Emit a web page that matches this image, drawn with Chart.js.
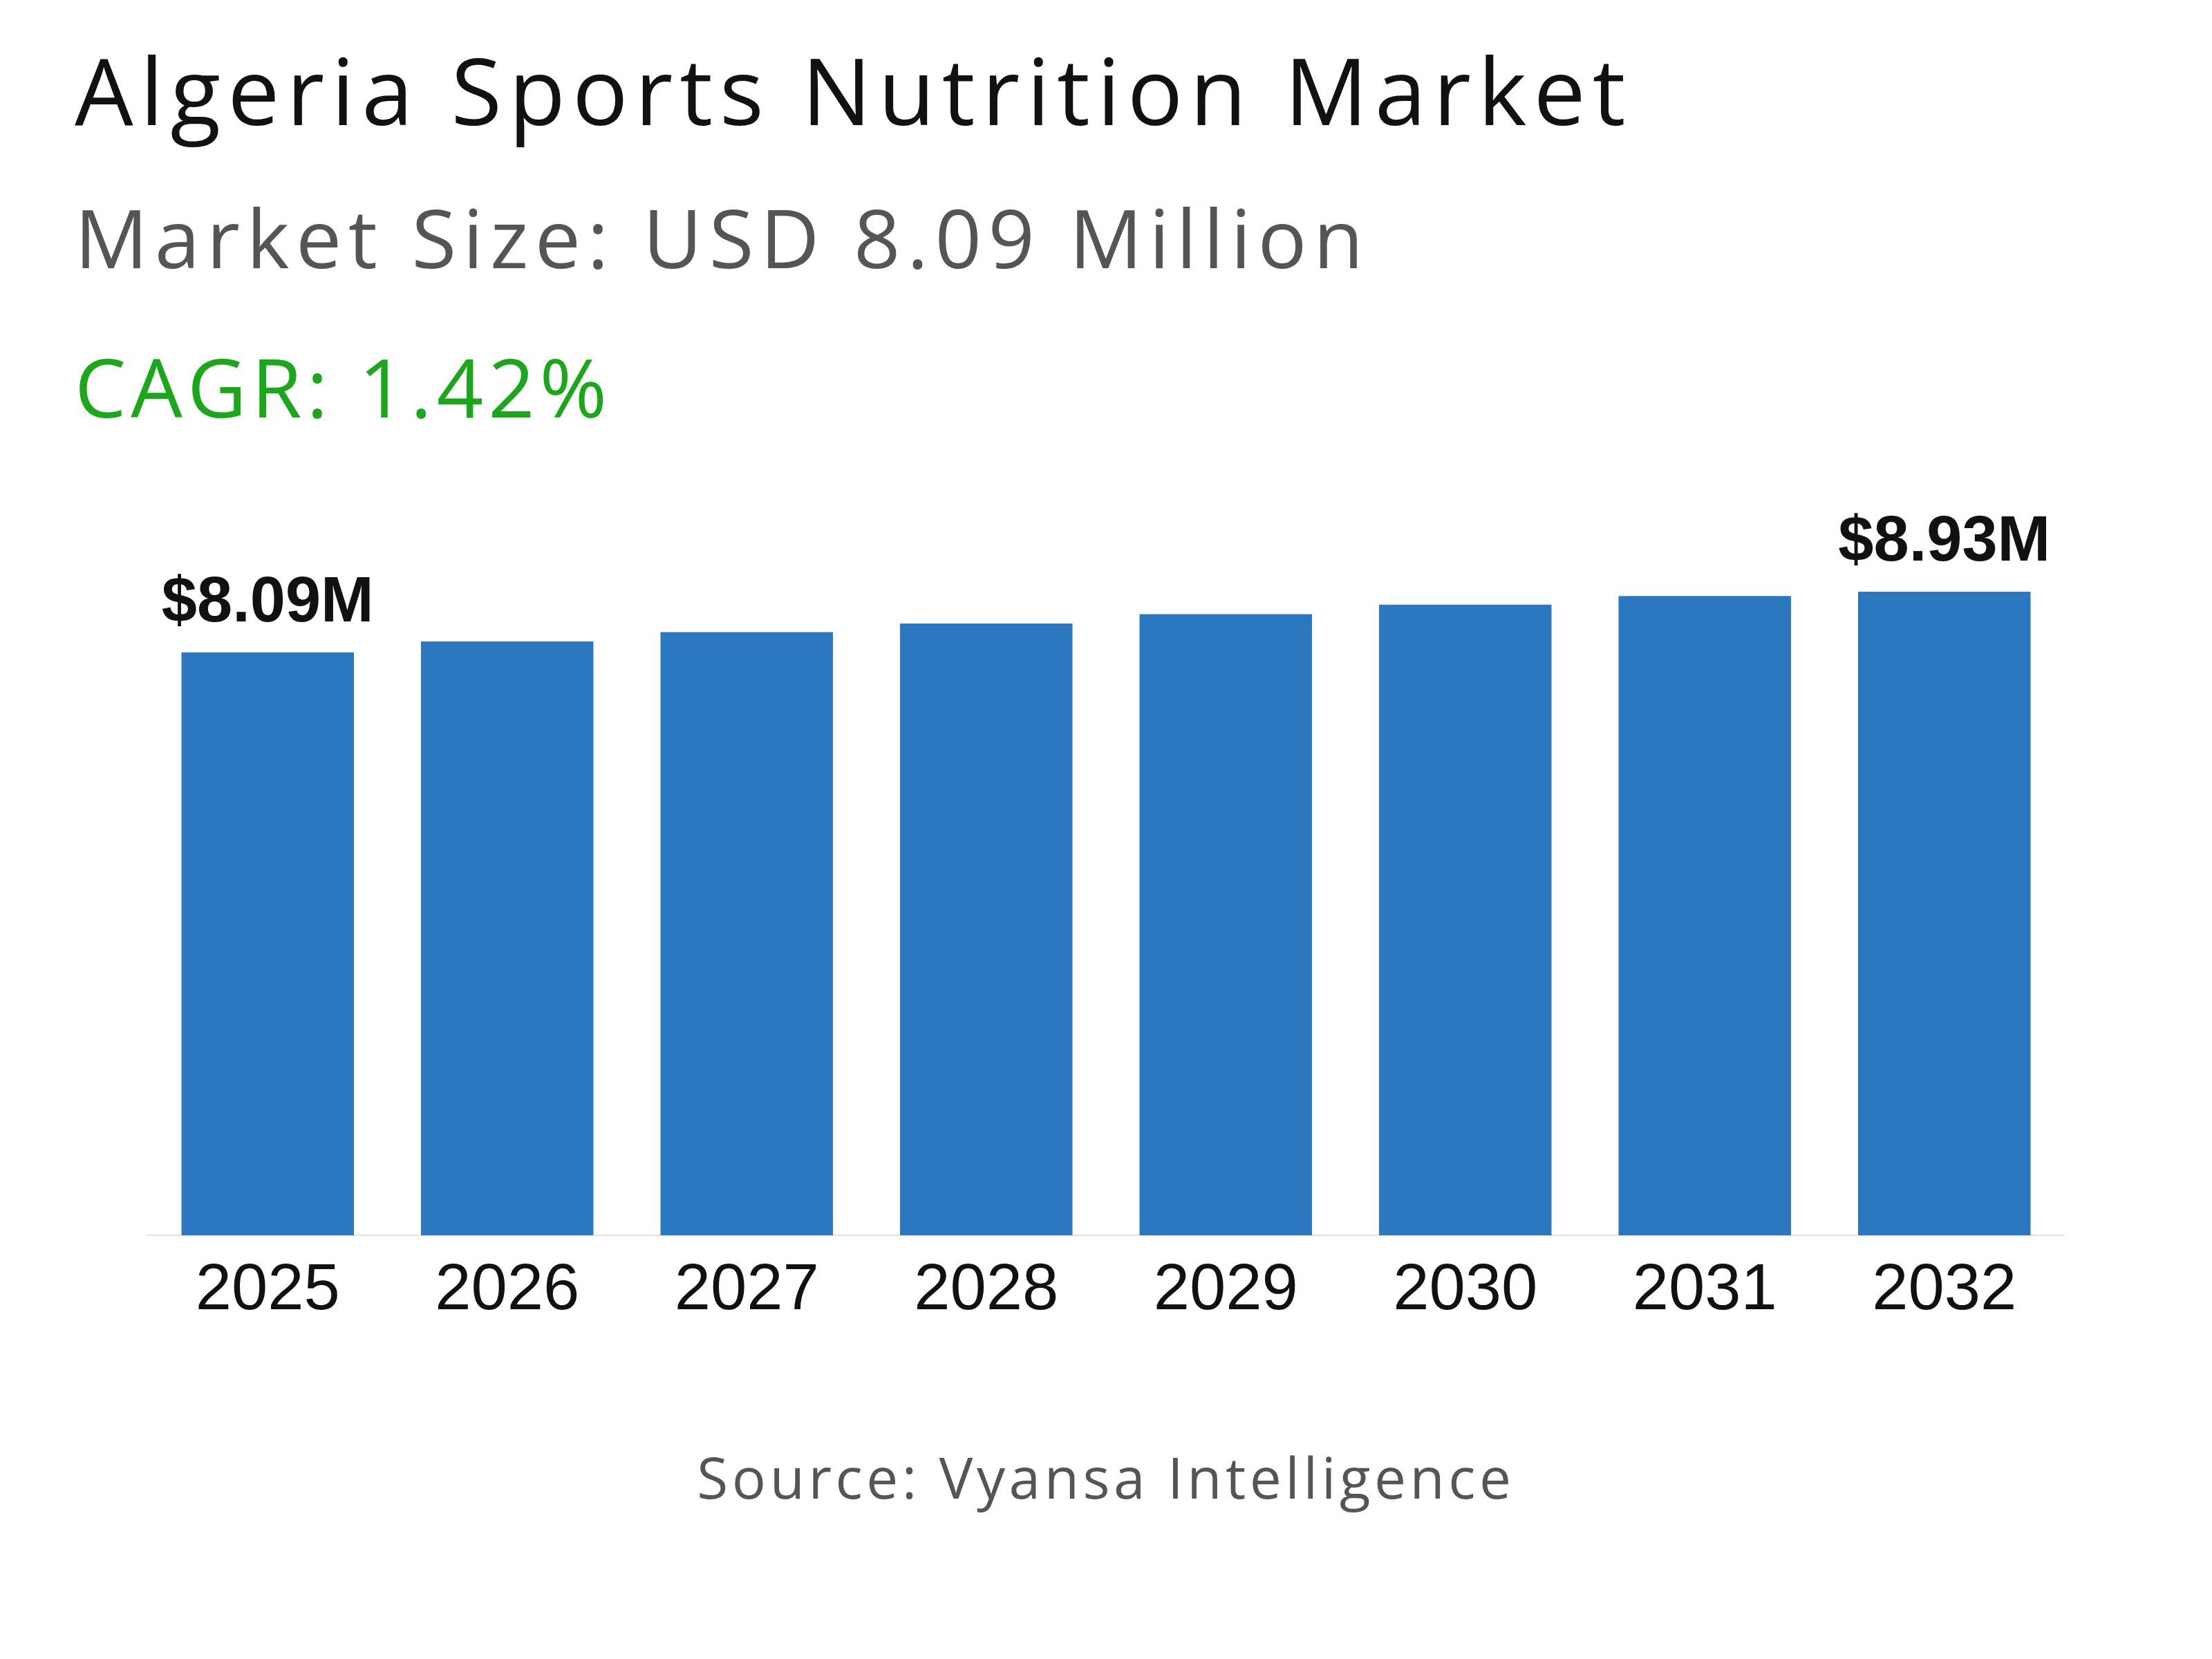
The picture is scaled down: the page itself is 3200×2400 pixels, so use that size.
<!DOCTYPE html>
<html><head><meta charset="utf-8">
<script src="https://cdn.jsdelivr.net/npm/chart.js@4/dist/chart.umd.min.js"></script>
<style>
html,body{margin:0;padding:0;background:#fff;width:3200px;height:2400px;overflow:hidden;font-family:"Open Sans",sans-serif}
.t{position:absolute;left:108px;white-space:nowrap}
#c{position:absolute;left:0;top:739px}
</style></head><body>
<div class="t" style="top:38px;font-size:134px;color:#111;letter-spacing:10px">Algeria Sports Nutrition Market</div>
<div class="t" style="top:262px;font-size:118px;color:#555;letter-spacing:9.5px">Market Size: USD 8.09 Million</div>
<div class="t" style="top:478px;font-size:118px;color:#1aa81a;letter-spacing:7px">CAGR: 1.42%</div>
<div style="position:absolute;top:2080px;left:0;width:3200px;text-align:center;font-size:82px;color:#555;letter-spacing:5.5px">Source: Vyansa Intelligence</div>
<canvas id="c" width="3200" height="1300"></canvas>
<script>
const years=["2025","2026","2027","2028","2029","2030","2031","2032"];
const values=[8.09,8.24,8.37,8.49,8.62,8.75,8.87,8.93];
const labelText=["$8.09M","","","","","","","$8.93M"];
const lbl={id:'lbl',afterDatasetsDraw(ch){const ctx=ch.ctx;const m=ch.getDatasetMeta(0);
ctx.save();ctx.font='bold 92px "Liberation Sans"';ctx.fillStyle='#111';ctx.textAlign='center';ctx.textBaseline='bottom';
m.data.forEach((b,i)=>{if(labelText[i])ctx.fillText(labelText[i],b.x,b.y-24);});ctx.restore();}};
new Chart(document.getElementById('c'),{type:'bar',
data:{labels:years,datasets:[{data:values,backgroundColor:'#2c78c0',barPercentage:0.72,categoryPercentage:1}]},
options:{responsive:false,devicePixelRatio:1,animation:false,
layout:{padding:{left:214,right:214,top:42,bottom:99}},
plugins:{legend:{display:false},tooltip:{enabled:false}},
scales:{y:{display:false,min:0,max:9.65},
x:{grid:{display:false},border:{display:true,color:'#e0e0e0',width:2},
ticks:{color:'#111',font:{family:'"Liberation Sans"',size:94},padding:16}}}},
plugins:[lbl]});
</script></body></html>
